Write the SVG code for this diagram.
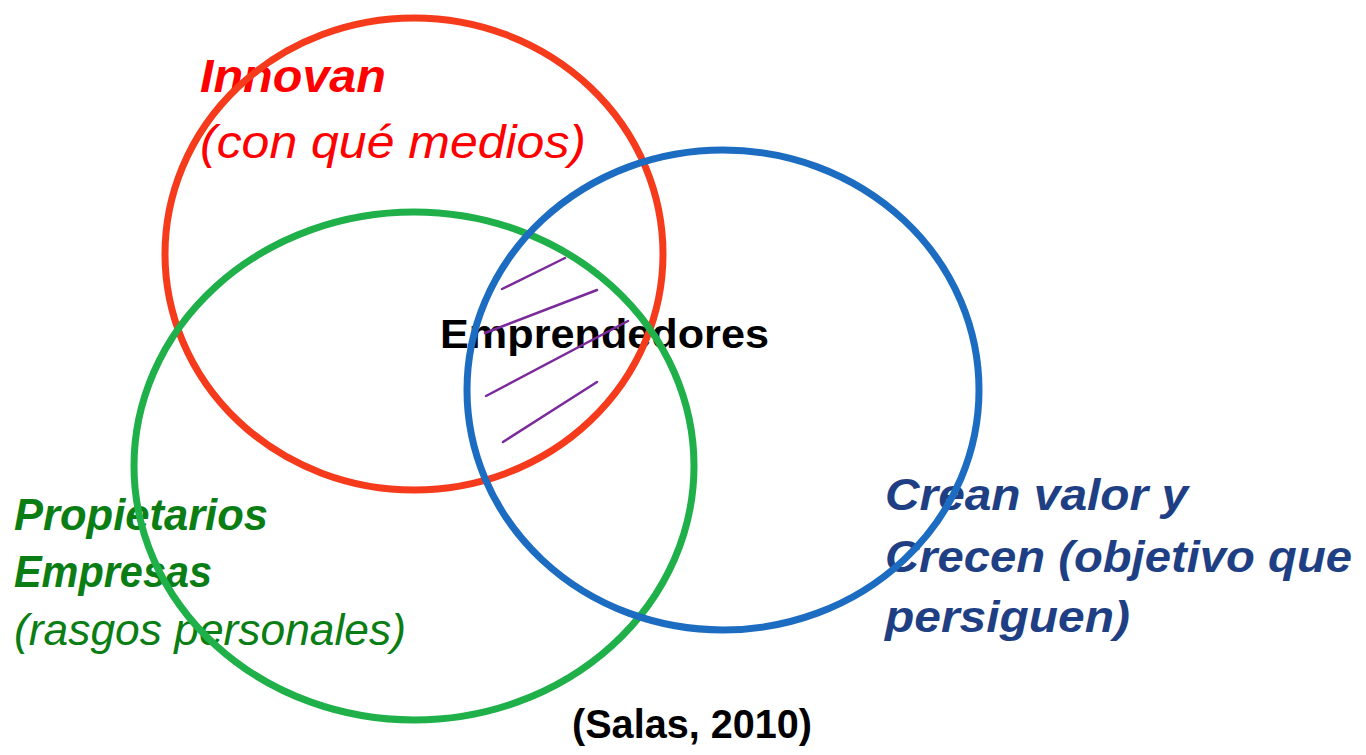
<svg xmlns="http://www.w3.org/2000/svg" width="1366" height="755" viewBox="0 0 1366 755">
<style>
.t{font-family:"Liberation Sans",Arial,sans-serif}
.bi{font-weight:bold;font-style:italic}
.i{font-style:italic}
.b{font-weight:bold}
.red{fill:#FF0000}
.grn{fill:#0A7D14}
.blu{fill:#1F3F84}
.ring{fill:none;stroke-width:7}
.hatch{stroke:#7B2A9C;stroke-width:2.5;stroke-linecap:round}
</style>
<rect width="1366" height="755" fill="#ffffff"/>
<g id="labels">
<text class="t bi red" x="200" y="92" font-size="47" textLength="186" lengthAdjust="spacingAndGlyphs">Innovan</text>
<text class="t i red" x="200" y="158" font-size="46" textLength="386" lengthAdjust="spacingAndGlyphs">(con qué medios)</text>
<text class="t b" x="440" y="348" font-size="41" fill="#000" textLength="329" lengthAdjust="spacingAndGlyphs">Emprendedores</text>
<text class="t bi grn" x="14" y="530" font-size="44" textLength="254" lengthAdjust="spacingAndGlyphs">Propietarios</text>
<text class="t bi grn" x="14" y="587" font-size="44" textLength="198" lengthAdjust="spacingAndGlyphs">Empresas</text>
<text class="t i grn" x="14" y="645" font-size="44" textLength="392" lengthAdjust="spacingAndGlyphs">(rasgos personales)</text>
<text class="t bi blu" x="885" y="510" font-size="44" textLength="303" lengthAdjust="spacingAndGlyphs">Crean valor y</text>
<text class="t bi blu" x="885" y="572" font-size="44" textLength="467" lengthAdjust="spacingAndGlyphs">Crecen (objetivo que</text>
<text class="t bi blu" x="885" y="632" font-size="44" textLength="245" lengthAdjust="spacingAndGlyphs">persiguen)</text>
<text class="t b" x="572" y="738" font-size="41" fill="#000" textLength="240" lengthAdjust="spacingAndGlyphs">(Salas, 2010)</text>
</g>
<g id="hatching">
<line class="hatch" x1="502" y1="289" x2="565" y2="258"/>
<line class="hatch" x1="485" y1="333" x2="597" y2="290"/>
<line class="hatch" x1="486" y1="396" x2="628" y2="321"/>
<line class="hatch" x1="503" y1="442" x2="597" y2="382"/>
</g>
<g id="innovan">
<ellipse class="ring" cx="414" cy="254" rx="249" ry="236" stroke="#F53B1C"/>
</g>
<g id="propietarios">
<ellipse class="ring" cx="414" cy="466" rx="280" ry="254" stroke="#1FB04A"/>
</g>
<g id="crean">
<ellipse class="ring" cx="723" cy="390" rx="256" ry="240" stroke="#1C6DC1"/>
</g>
</svg>
